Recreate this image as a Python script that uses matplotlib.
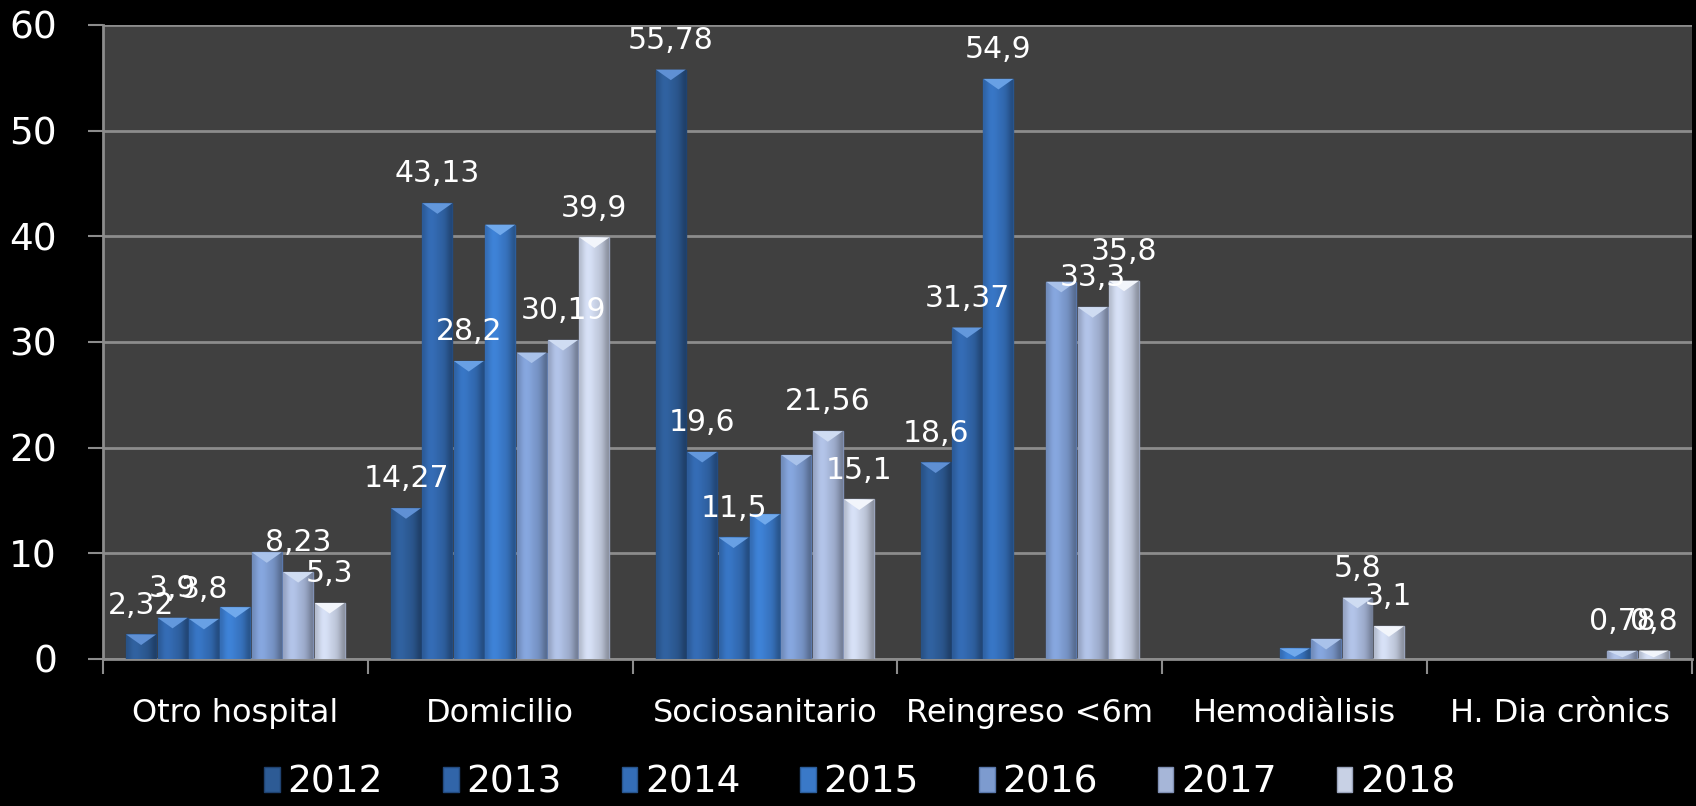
import numpy as np
import matplotlib.pyplot as plt
from matplotlib.colors import to_rgb
from matplotlib.patches import Patch

categories = ['Otro hospital', 'Domicilio', 'Sociosanitario', 'Reingreso <6m',
              'Hemodiàlisis', 'H. Dia crònics']
years = ['2012', '2013', '2014', '2015', '2016', '2017', '2018']

v2012 = [2.32, 14.27, 55.78, 18.6, None, None]
v2013 = [3.9, 43.13, 19.6, 31.37, None, None]
v2014 = [3.8, 28.2, 11.5, 54.9, None, None]
v2015 = [4.9, 41.1, 13.7, None, 1.0, None]
v2016 = [10.1, 29.0, 19.3, 35.7, 1.9, None]
v2017 = [8.23, 30.19, 21.56, 33.3, 5.8, 0.78]
v2018 = [5.3, 39.9, 15.1, 35.8, 3.1, 0.8]
series = [v2012, v2013, v2014, v2015, v2016, v2017, v2018]

# series that carry data labels in the original
labelled = ['2012', '2013', '2014', '2017', '2018']

colors = ['#2d5b95', '#3165a9', '#346eb8', '#3a79c8', '#7d9bcf', '#a6b6d8', '#c8d1e5']
tops = ['#5f90d4', '#6398dc', '#68a0e4', '#70a9ec', '#a9c2ea', '#cfdcf2', '#f2f5fb']
edges = ['#1f4270', '#234b80', '#28558e', '#2c5e9c', '#5a78ac', '#8090b4', '#9aa4bc']

plt.rcParams['font.family'] = 'DejaVu Sans'

fig = plt.figure(figsize=(16.96, 8.06), dpi=100)
fig.patch.set_facecolor('black')
ax = fig.add_axes([0.0607, 0.1824, 0.9369, 0.7866])
ax.set_facecolor('#404040')

n = len(years)
slot = 0.1186
width = 0.113
x = np.arange(len(categories))

# horizontal shading profile across a bar: lighter left, darker right edge
prof = np.array([0.9, 1.0, 1.08, 1.08, 1.05, 1.0, 0.97, 0.92, 0.82, 0.7])

for i, (yr, vals) in enumerate(zip(years, series)):
    off = (i - (n - 1) / 2) * slot
    xs = [x[j] + off for j, v in enumerate(vals) if v is not None]
    hs = [v for v in vals if v is not None]
    bars = ax.bar(xs, hs, width, color=colors[i], edgecolor=edges[i], linewidth=1.0, zorder=3)
    grad = np.clip(np.outer(prof, to_rgb(colors[i])), 0, 1)[None, :, :]
    for b, xx, h in zip(bars, xs, hs):
        im = ax.imshow(grad, extent=(xx - width / 2, xx + width / 2, 0, h),
                       aspect='auto', interpolation='bicubic', zorder=3.5)
        im.set_clip_path(b)
        d = min(1.0, 0.8 * h)
        ax.fill([xx - width / 2, xx + width / 2, xx], [h, h, h - d],
                color=tops[i], zorder=4, lw=0)
        if yr in labelled:
            ax.annotate(f'{h:g}'.replace('.', ','), (xx, h), xytext=(0, 15),
                        textcoords='offset points', ha='center', va='baseline',
                        color='white', fontsize=21.5, zorder=5)

ax.set_xlim(-0.5, len(categories) - 0.5)
ax.set_ylim(0, 60)
ax.set_yticks(np.arange(0, 61, 10))
ax.yaxis.grid(True, color='#8c8c8c', lw=2)
ax.set_axisbelow(True)

ax.set_xticks(x)
ax.set_xticklabels(categories, fontsize=23, color='white')
ax.set_xticks(np.arange(-0.5, len(categories)), minor=True)
ax.tick_params(axis='x', which='major', length=0, pad=28)
ax.tick_params(axis='x', which='minor', length=11, width=1.5, color='#8c8c8c')
ax.tick_params(axis='y', length=11, width=1.5, color='#8c8c8c', labelsize=27,
               labelcolor='white', pad=22)

for s in ['top', 'right']:
    ax.spines[s].set_visible(False)
for s in ['left', 'bottom']:
    ax.spines[s].set_color('#8c8c8c')
    ax.spines[s].set_linewidth(2)

handles = [Patch(facecolor=c, edgecolor=e, lw=1) for c, e in zip(colors, edges)]
leg = fig.legend(handles, years, loc='center', bbox_to_anchor=(0.507, 0.029),
                 ncol=7, frameon=False, fontsize=27, handlelength=0.42,
                 handleheight=0.62, handletextpad=0.2, columnspacing=1.6,
                 labelcolor='white')

fig.savefig('out.png', dpi=100, facecolor='black')
